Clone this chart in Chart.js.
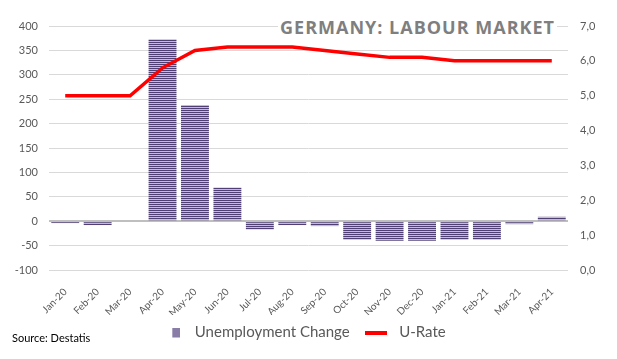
<!DOCTYPE html>
<html>
<head>
<meta charset="utf-8">
<script src="https://cdn.jsdelivr.net/npm/chart.js@4"></script>
<style>
  html, body { margin: 0; padding: 0; background: #fff; }
  #wrap { position: relative; width: 617px; height: 359px; }
  #title {
    position: absolute; left: 278px; top: 14px; width: 279px; height: 26px;
    background: #fff; color: #7f7f7f; font: bold 18px "Open Sans", sans-serif;
    letter-spacing: 1px; text-align: center; line-height: 26px; white-space: nowrap;
  }
  #source {
    position: absolute; left: 12px; top: 331px;
    font: 11px Lato, sans-serif; color: #000;
  }
</style>
</head>
<body>
<div id="wrap">
  <canvas id="chart" width="617" height="359"></canvas>
  <div id="title">GERMANY: LABOUR MARKET</div>
  <div id="source">Source: Destatis</div>
</div>
<script>
// Data
let months = ['Jan-20', 'Feb-20', 'Mar-20', 'Apr-20', 'May-20', 'Jun-20', 'Jul-20', 'Aug-20',
  'Sep-20', 'Oct-20', 'Nov-20', 'Dec-20', 'Jan-21', 'Feb-21', 'Mar-21', 'Apr-21'];
let unemploymentChange = [-4, -8, 0, 373, 238, 69, -17, -8, -10, -38, -40, -40, -38, -38, -6, 9];
let uRate = [5.0, 5.0, 5.0, 5.8, 6.3, 6.4, 6.4, 6.4, 6.3, 6.2, 6.1, 6.1, 6.0, 6.0, 6.0, 6.0];
let leftTicks = [-100, 400, 50];   // min, max, step
let rightTicks = [0, 7, 1];

// Striped fill for the bars (offsetX leaves blank room on the left, for the legend swatch)
function stripes(w, h, offsetX) {
  let c = document.createElement('canvas');
  c.width = w + offsetX; c.height = h;
  let g = c.getContext('2d');
  for (let y = 0; y < h; y += 2) {
    g.fillStyle = '#4f3f75';
    g.fillRect(offsetX, y, w, 1);
    g.fillStyle = '#c4bbdb';
    g.fillRect(offsetX, y + 1, w, 1);
  }
  return c;
}
let patternTile = stripes(4, 2, 0);
let barFill = document.getElementById('chart').getContext('2d').createPattern(patternTile, 'repeat');
let barSwatch = stripes(8, 10, 10);

// red line swatch for the legend
let lineSwatch = document.createElement('canvas');
lineSwatch.width = 22; lineSwatch.height = 4;
lineSwatch.getContext('2d').fillStyle = '#ff0000';
lineSwatch.getContext('2d').fillRect(0, 0, 22, 4);

let textColor = '#595959';

let chart = new Chart(document.getElementById('chart'), {
  data: {
    labels: months,
    datasets: [{
      type: 'bar',
      label: 'Unemployment Change',
      data: unemploymentChange,
      backgroundColor: barFill,
      borderWidth: 0,
      yAxisID: 'y',
      order: 1,
      pointStyle: barSwatch,
      categoryPercentage: 1,
      barPercentage: 0.86
    }, {
      type: 'line',
      label: 'U-Rate',
      data: uRate,
      borderColor: '#ff0000',
      backgroundColor: '#ff0000',
      borderWidth: 3.5,
      pointRadius: 0,
      tension: 0,
      yAxisID: 'y1',
      order: 0,
      pointStyle: lineSwatch
    }]
  },
  options: {
    responsive: false,
    animation: false,
    // extra right padding moves the centred legend left; y1 is narrowed to compensate
    layout: { padding: { top: 26, left: 0, right: 16, bottom: 9 } },
    plugins: {
      tooltip: { enabled: false },
      legend: {
        position: 'bottom',
        labels: {
          usePointStyle: true,
          pointStyleWidth: 32,
          boxHeight: 10,
          padding: 10,
          color: textColor,
          font: { family: 'Lato', size: 15 },
          sort: (a, b) => a.datasetIndex - b.datasetIndex
        }
      }
    },
    scales: {
      x: {
        grid: { display: false },
        border: { display: false },
        ticks: {
          color: textColor, font: { family: 'Lato', size: 10 },
          minRotation: 45, maxRotation: 45, padding: 8, autoSkip: false
        },
        afterFit: s => { s.height = 45; }
      },
      y: {
        position: 'left',
        min: leftTicks[0], max: leftTicks[1],
        ticks: { stepSize: leftTicks[2], color: textColor, font: { family: 'Lato', size: 11 }, padding: 11 },
        grid: {
          drawTicks: false,
          color: c => c.tick && c.tick.value === 0 ? '#bfbfbf' : '#d9d9d9',
          lineWidth: c => c.tick && c.tick.value === 0 ? 2 : 1
        },
        border: { display: false },
        afterFit: s => { s.width = 49; }
      },
      y1: {
        position: 'right',
        min: rightTicks[0], max: rightTicks[1],
        ticks: {
          stepSize: rightTicks[2], color: textColor, font: { family: 'Lato', size: 11 }, padding: 12,
          callback: v => v.toFixed(1).replace('.', ',')
        },
        grid: { display: false, drawTicks: false },
        border: { display: false },
        afterFit: s => { s.width = 33; }
      }
    }
  }
});
</script>
</body>
</html>
